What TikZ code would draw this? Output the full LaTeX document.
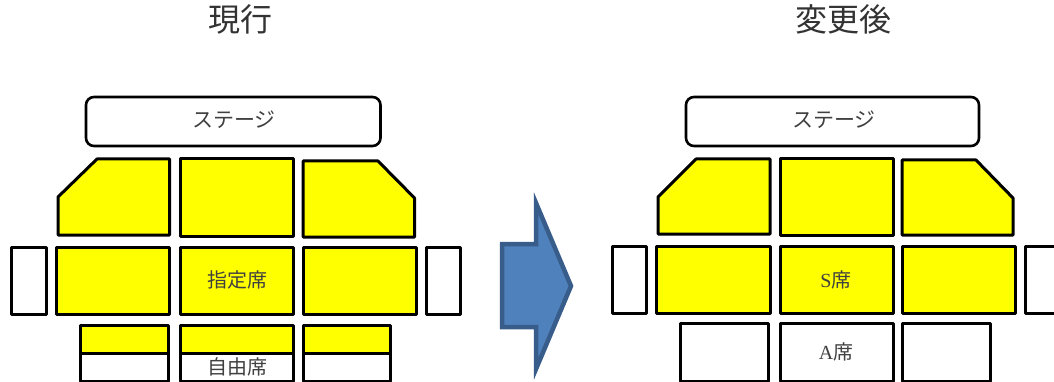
\documentclass[tikz,border=0pt]{standalone}
\usepackage{fontspec}
\setmainfont{Liberation Serif}
\newfontfamily\jpfont{Noto Sans CJK JP}
\definecolor{seatyellow}{HTML}{FFFF00}
\definecolor{arrowfill}{HTML}{4F81BD}
\definecolor{arrowline}{HTML}{385D8A}
\tikzset{
    seat/.style={draw=black, line width=3pt, fill=seatyellow, line join=round},
    free/.style={draw=black, line width=3pt, fill=white, line join=round},
    stage/.style={draw=black, line width=2.6pt, fill=white, rounded corners=8pt},
    title/.style={font=\jpfont\fontsize{32}{36}\selectfont, text=black!80},
    label/.style={font=\jpfont\fontsize{20}{24}\selectfont, text=black!75, inner sep=0pt},
    stagelabel/.style={label, font=\jpfont\fontsize{21}{24}\selectfont},
}
\begin{document}
\begin{tikzpicture}[x=1pt, y=-1pt]
    \clip (0,0) rectangle (1054,382);
    \fill[white] (0,0) rectangle (1054,382);

    % left plan
    \node[title] (titleOld) at (240,19) {現行};
    \draw[stage] (86,97) rectangle (380.5,146);
    \node[stagelabel] (stageOld) at (234,120) {ステージ};

    \draw[seat] (58,197)--(97,159)--(169.5,159)--(169.5,235)--(58,235)--cycle;
    \draw[seat] (180,159) rectangle (293.5,236);
    \draw[seat] (303,161)--(378,161)--(414.5,198)--(414.5,237)--(303,237)--cycle;

    \draw[free] (11.5,247) rectangle (46,314);
    \draw[seat] (56.5,247) rectangle (169.5,314);
    \draw[seat] (180,247) rectangle (293.5,314);
    \draw[seat] (303,247) rectangle (416,314);
    \draw[free] (426,247) rectangle (460.5,314);
    \node[label] (reservedOld) at (237,280) {指定席};

    \draw[free] (80,353) rectangle (168,381);
    \draw[free] (180,353) rectangle (293.5,381);
    \draw[free] (303,353) rectangle (390.5,381);
    \draw[seat] (80,325) rectangle (168,353);
    \draw[seat] (180,325) rectangle (293.5,353);
    \draw[seat] (303,325) rectangle (390.5,353);
    \node[label] (unreservedOld) at (237,367) {自由席};

    % arrow
    \draw[fill=arrowfill, draw=arrowline, line width=4.5pt, line join=miter, miter limit=20]
        (502,244)--(536,244)--(536,203)--(571,286)--(536,369)--(536,327)--(502,327)--cycle;

    % right plan
    \node[title] (titleNew) at (843,19) {変更後};
    \draw[stage] (686,97) rectangle (979,146);
    \node[stagelabel] (stageNew) at (834,120) {ステージ};

    \draw[seat] (658,197)--(696,159)--(770,159)--(770,234)--(658,234)--cycle;
    \draw[seat] (780,159) rectangle (893,235);
    \draw[seat] (902,160)--(976,160)--(1013,198)--(1013,235)--(902,235)--cycle;

    \draw[free] (612,246) rectangle (646,313);
    \draw[seat] (656,246) rectangle (770,313);
    \draw[seat] (780,246) rectangle (893,313);
    \draw[seat] (902,246) rectangle (1015,313);
    \draw[free] (1025,246) rectangle (1064,313);
    \node[label] (seatS) at (836,280) {{\rmfamily S}席};

    \draw[free] (680,323) rectangle (768,381);
    \draw[free] (780,323) rectangle (893,381);
    \draw[free] (902,323) rectangle (990,381);
    \node[label] (seatA) at (836,352) {{\rmfamily A}席};
\end{tikzpicture}
\end{document}
